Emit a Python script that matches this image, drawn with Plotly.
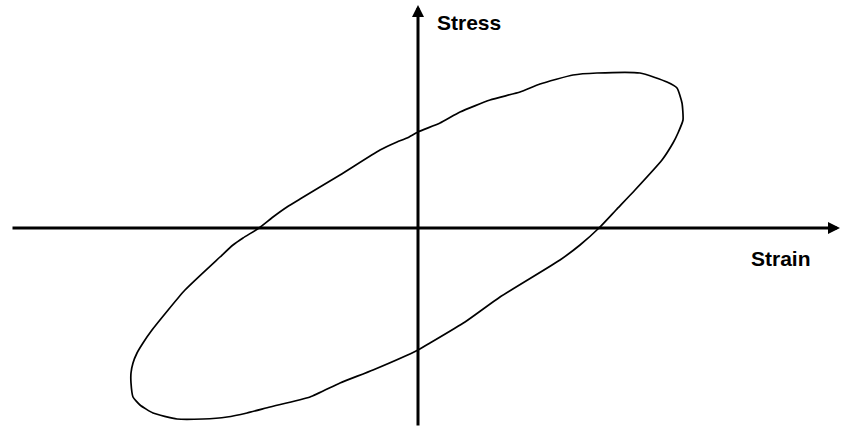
import plotly.graph_objects as go

# Hysteresis loop: stress vs strain, traced clockwise from the top
strain = [179, 222, 249, 259, 264, 265, 260, 255, 244, 217, 198, 181, 162, 142,
          82, 47, 12, 0, -45, -78, -108, -148, -171, -191, -215, -241, -265,
          -278, -285, -287, -287, -285, -281, -275, -266, -233, -198, -185,
          -175, -159, -145, -131, -118, -78, -38, -21, -11, 0, 22, 42, 72, 102,
          122, 155, 179]
stress = [155, 155, 146, 140, 125, 108, 95, 85, 68, 38, 18, 0, -17, -32,
          -69, -94, -115, -122, -142, -155, -169, -179, -185, -189, -191, -191,
          -185, -177, -169, -155, -145, -135, -125, -115, -102, -62, -29, -17,
          -10, 0, 11, 21, 29, 53, 78, 86, 90, 96, 105, 116, 128, 136, 144, 153,
          155]

# Extent of the drawn axes
x_axis_start, x_axis_tip = -407, 422
y_axis_start, y_axis_tip = -199, 223

X_RANGE = [-418, 423]
Y_RANGE = [-199, 228]

fig = go.Figure()

fig.add_trace(go.Scatter(
    x=strain, y=stress, mode="lines",
    line=dict(color="black", width=1.7, shape="spline", smoothing=0.5),
    hoverinfo="skip", showlegend=False,
))

# Axes with arrowheads
arrow = dict(showarrow=True, arrowhead=2, arrowsize=0.8, arrowwidth=3,
             arrowcolor="black", axref="x", ayref="y", xref="x", yref="y",
             text="", standoff=0, startstandoff=0)
fig.add_annotation(x=x_axis_tip, y=0, ax=x_axis_start, ay=0, **arrow)
fig.add_annotation(x=0, y=y_axis_tip, ax=0, ay=y_axis_start, **arrow)

label_font = dict(family="Liberation Sans, Arial, sans-serif", size=21, color="black")
fig.add_annotation(x=51, y=206, xref="x", yref="y", text="<b>Stress</b>",
                   showarrow=False, font=label_font)
fig.add_annotation(x=363, y=-30, xref="x", yref="y", text="<b>Strain</b>",
                   showarrow=False, font=label_font)

fig.update_xaxes(range=X_RANGE, visible=False, fixedrange=True)
fig.update_yaxes(range=Y_RANGE, visible=False, fixedrange=True)
fig.update_layout(
    width=841, height=427,
    margin=dict(l=0, r=0, t=0, b=0),
    paper_bgcolor="white", plot_bgcolor="white",
)

fig.write_html("out.html")
